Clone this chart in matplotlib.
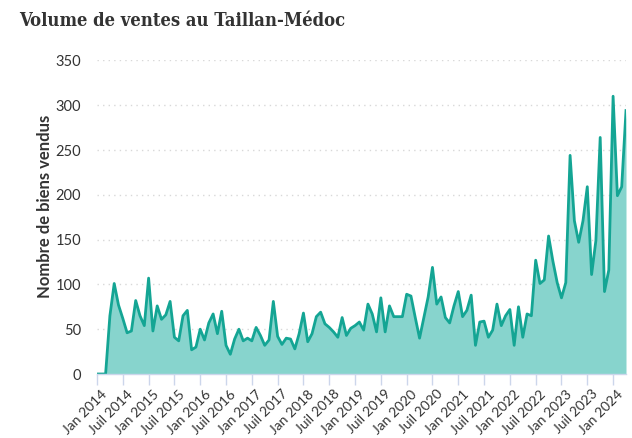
import matplotlib
matplotlib.use("Agg")
import matplotlib.pyplot as plt
import matplotlib.transforms as mtransforms

title = "Volume de ventes au Taillan-Médoc"
ylabel = "Nombre de biens vendus"

# Monthly sales, Jan 2014 .. Apr 2024
values = [
    0, 0, 0, 65, 101, 77, 62, 46, 48, 82, 65, 54,          # 2014
    107, 48, 76, 61, 66, 81, 41, 37, 65, 71, 27, 30,        # 2015
    50, 38, 57, 67, 45, 70, 32, 22, 39, 50, 37, 40,         # 2016
    37, 52, 43, 32, 38, 81, 42, 33, 40, 39, 28, 45,         # 2017
    68, 36, 45, 64, 69, 56, 52, 47, 41, 63, 43, 51,         # 2018
    54, 58, 49, 78, 67, 47, 85, 47, 76, 64, 64, 64,         # 2019
    89, 87, 63, 40, 63, 86, 119, 78, 86, 63, 57, 76,        # 2020
    92, 64, 71, 88, 32, 58, 59, 41, 49, 78, 54, 65,         # 2021
    72, 32, 75, 41, 67, 65, 127, 101, 105, 154, 126, 102,   # 2022
    85, 102, 244, 171, 147, 171, 209, 111, 149, 264, 92, 116,  # 2023
    310, 199, 209, 294,                                     # 2024
]
tick_labels = [
    "Jan 2014", "Juil 2014", "Jan 2015", "Juil 2015", "Jan 2016", "Juil 2016",
    "Jan 2017", "Juil 2017", "Jan 2018", "Juil 2018", "Jan 2019", "Juil 2019",
    "Jan 2020", "Juil 2020", "Jan 2021", "Juil 2021", "Jan 2022", "Juil 2022",
    "Jan 2023", "Juil 2023", "Jan 2024",
]
tick_months = [6 * k for k in range(len(tick_labels))]
y_ticks = [0, 50, 100, 150, 200, 250, 300, 350]

x = list(range(len(values)))

line_color = "#14a594"
fill_color = "#87d4cd"
text_color = "#333333"
axis_color = "#ccd6eb"

fig = plt.figure(figsize=(6.32, 4.38), dpi=100)
ax = fig.add_axes([97 / 632, 1 - 374 / 438, (626 - 97) / 632, (374 - 60.4) / 438])

ax.fill_between(x, values, 0, color=fill_color, lw=0, zorder=2)
ax.plot(x, values, color=line_color, lw=2, zorder=3, solid_joinstyle="round")

ax.set_xlim(0, len(values) - 1)
ax.set_ylim(0, 350)

ax.set_yticks(y_ticks)
ax.set_yticklabels([str(v) for v in y_ticks], fontsize=10.5, color=text_color, family="Lato")
ax.tick_params(axis="y", length=0, pad=11.5)

for v in y_ticks[1:]:
    ax.axhline(v, color="#d8d8d8", lw=1, linestyle=(0, (1, 3)), zorder=1)

ax.set_xticks(tick_months)
ax.set_xticklabels(tick_labels, fontsize=10, color=text_color, family="Lato",
                   rotation=45, ha="right", va="top", rotation_mode="anchor")
ax.tick_params(axis="x", length=8, width=1, color=axis_color, pad=2)
offset = mtransforms.ScaledTranslation(4 / 100, 0, fig.dpi_scale_trans)
for lbl in ax.get_xticklabels():
    lbl.set_transform(lbl.get_transform() + offset)

for side in ["top", "right", "left"]:
    ax.spines[side].set_visible(False)
ax.spines["bottom"].set_color(axis_color)
ax.spines["bottom"].set_linewidth(1)
ax.spines["bottom"].set_zorder(4)

fig.text(45 / 632, 1 - 206 / 438, ylabel, fontsize=12, fontweight="bold",
         family="Lato", color=text_color, rotation=90, ha="center", va="center")

fig.text(19 / 632, 1 - 21 / 438, title, fontsize=13.2, fontweight="bold",
         family="DejaVu Serif", fontstretch="condensed", color=text_color,
         ha="left", va="center")

fig.savefig("out.png", dpi=100)
